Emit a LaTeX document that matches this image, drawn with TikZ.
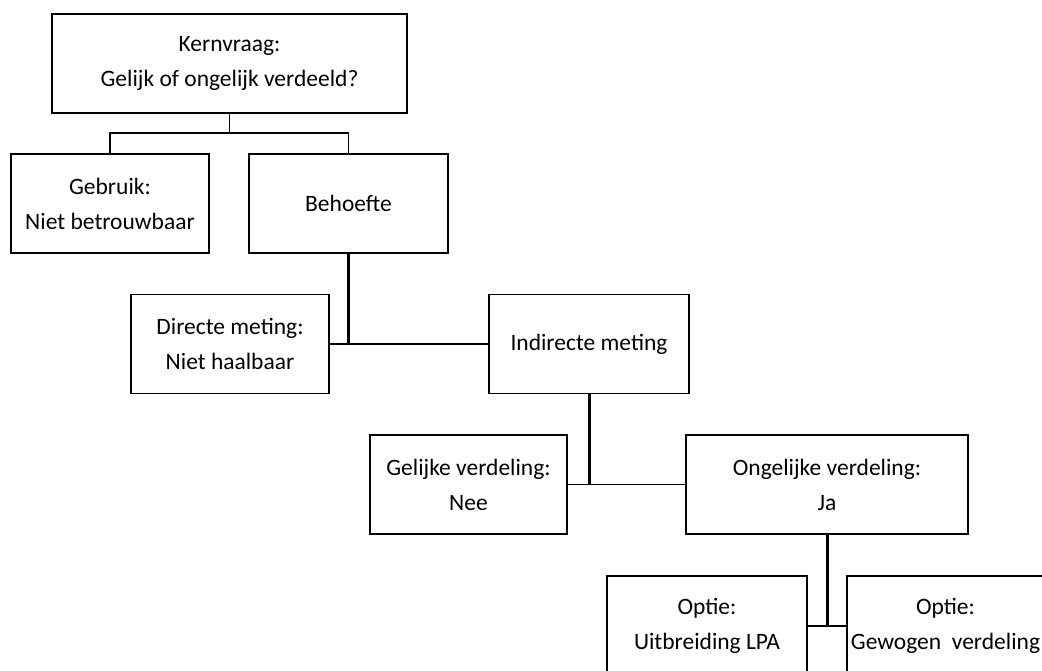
\documentclass[tikz,border=0pt]{standalone}
\usepackage{fontspec}
\setmainfont{Carlito}
\begin{document}
\begin{tikzpicture}[x=1pt,y=-1pt,
  box/.style={draw=black, line width=1.6pt, minimum height=99pt, inner sep=0pt, align=center,
    font=\fontsize{23.5}{35}\selectfont, text=black},
  thin/.style={line width=1.8pt, draw=black},
  thick/.style={line width=3pt, draw=black}]
\useasboundingbox (0,0) rectangle (1042,671);
\node[box, minimum width=355pt] (kern) at (229.5,63.5) {Kernvraag:\\Gelijk of ongelijk verdeeld?};
\node[box, minimum width=198pt] (gebruik) at (110,203.5) {Gebruik:\\Niet betrouwbaar};
\node[box, minimum width=199pt] (behoefte) at (348.5,203.5) {Behoefte};
\node[box, minimum width=198pt] (directe) at (230,344) {Directe meting:\\Niet haalbaar};
\node[box, minimum width=200pt] (indirecte) at (589,344) {Indirecte meting};
\node[box, minimum width=197pt] (gelijke) at (468.5,484.5) {Gelijke verdeling:\\Nee};
\node[box, minimum width=282pt] (ongelijke) at (827,484.5) {Ongelijke verdeling:\\Ja};
\node[box, minimum width=200pt, minimum height=100pt] (optie1) at (707,626) {Optie:\\Uitbreiding LPA};
\node[box, minimum width=197pt, minimum height=100pt] (optie2) at (945.5,626) {Optie:\\Gewogen\ \ verdeling};
\coordinate (j1) at (229.5,133);
\draw[thin] (kern.south) -- (j1);
\draw[thin] (gebruik.north) |- (j1) -| (behoefte.north);
\draw[thick] (behoefte.south) -- (behoefte.south |- directe.east);
\draw[thin] (directe.east) -- (indirecte.west);
\draw[thick] (indirecte.south) -- (indirecte.south |- gelijke.east);
\draw[thin] (gelijke.east) -- (ongelijke.west);
\draw[thick] (ongelijke.south) -- (ongelijke.south |- optie1.east);
\draw[thin] (optie1.east) -- (optie2.west);
\end{tikzpicture}
\end{document}
